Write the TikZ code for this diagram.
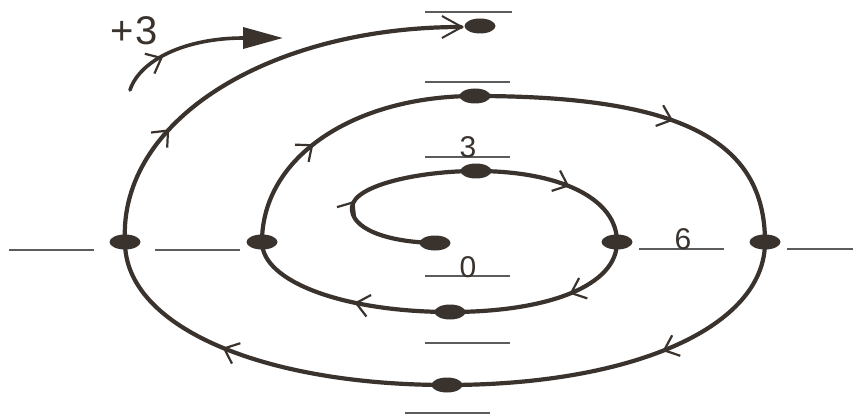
\documentclass[tikz,border=0pt]{standalone}
\usepackage{fontspec}
\setmainfont{Liberation Sans}
\usetikzlibrary{arrows.meta, decorations.markings, shapes.geometric}
\definecolor{ink}{HTML}{3A322D}
\definecolor{rulegray}{HTML}{5C5C5C}

\begin{document}
\begin{tikzpicture}[x=1pt, y=-1pt,
    coil/.style={draw, color=ink, line width=4.2pt, line cap=round},
    dot/.style={ellipse, fill=ink, minimum width=31pt, minimum height=15pt, inner sep=0pt},
    tickline/.style={draw=rulegray, line width=1.3pt},
    midarrow/.style={postaction={decorate}, decoration={markings,
        mark=at position #1 with {\arrow[line width=2.2pt]{Straight Barb[length=13pt, width=22pt]}}}},
    num/.style={font=\fontsize{30}{30}\selectfont, text=ink, inner sep=0pt}]
        \useasboundingbox (0,0) rectangle (853,414);

        % Points on the spiral
        \coordinate (p0) at (435,243);
        \coordinate (p3) at (476,171);
        \coordinate (p6) at (617,242);
        \coordinate (b1) at (450,312);
        \coordinate (l1) at (262,242);
        \coordinate (t2) at (475,96);
        \coordinate (r2) at (765,242);
        \coordinate (b2) at (447,385);
        \coordinate (l2) at (125,242);
        \coordinate (t3) at (480,26);
        \coordinate (t3tip) at (464,27);

        % Tick lines
        \draw[tickline] (425,12) -- (512,12);
        \draw[tickline] (425,82) -- (510,82);
        \draw[tickline] (425,157) -- (510,157);
        \draw[tickline] (425,276) -- (510,276);
        \draw[tickline] (425,343) -- (510,343);
        \draw[tickline] (405,413) -- (490,413);
        \draw[tickline] (639,249) -- (724,249);
        \draw[tickline] (787,249) -- (853,249);
        \draw[tickline] (9,250) -- (94,250);
        \draw[tickline] (155,250) -- (240,250);

        % Spiral
        \draw[coil, midarrow=0.45] (p0) .. controls (385,242) and (350,228) .. (352,207)
            .. controls (354,185) and (420,171) .. (p3);
        \draw[coil, midarrow=0.55] (p3) .. controls (561,171) and (617,199) .. (p6);
        \draw[coil, midarrow=0.38] (p6) .. controls (617,285) and (550,312) .. (b1);
        \draw[coil, midarrow=0.45] (b1) .. controls (345,312) and (262,282) .. (l1);
        \draw[coil, midarrow=0.4] (l1) .. controls (262,157) and (354,96) .. (t2);
        \draw[coil, midarrow=0.55] (t2) .. controls (680,96) and (765,140) .. (r2);
        \draw[coil, midarrow=0.42] (r2) .. controls (765,327) and (633,385) .. (b2);
        \draw[coil, midarrow=0.6] (b2) .. controls (263,385) and (125,327) .. (l2);
        \draw[coil, midarrow=0.28, -{Straight Barb[length=20pt, width=22pt, line width=2pt]}]
            (l2) .. controls (118,120) and (270,27) .. (t3tip);

        % Dots
        \foreach \p in {p0, p3, p6, b1, l1, t2, r2, b2, l2, t3}
            \node[dot] (\p-dot) at (\p) {};

        % +3 arrow
        \coordinate (s) at (130,90);
        \coordinate (e) at (283,38);
        \draw[coil, line width=3.6pt, midarrow=0.28, -{Triangle[length=40pt, width=21pt]}]
            (s) .. controls (140,60) and (185,38) .. (e);

        % Labels
        \node[num, font=\fontsize{40}{40}\selectfont] (plus) at (134,31) {+\kern2pt3};
        \node[num] (three) at (468,147) {3};
        \node[num] (zero) at (468,267) {0};
        \node[num] (six) at (683,239) {6};
    \end{tikzpicture}
\end{document}
